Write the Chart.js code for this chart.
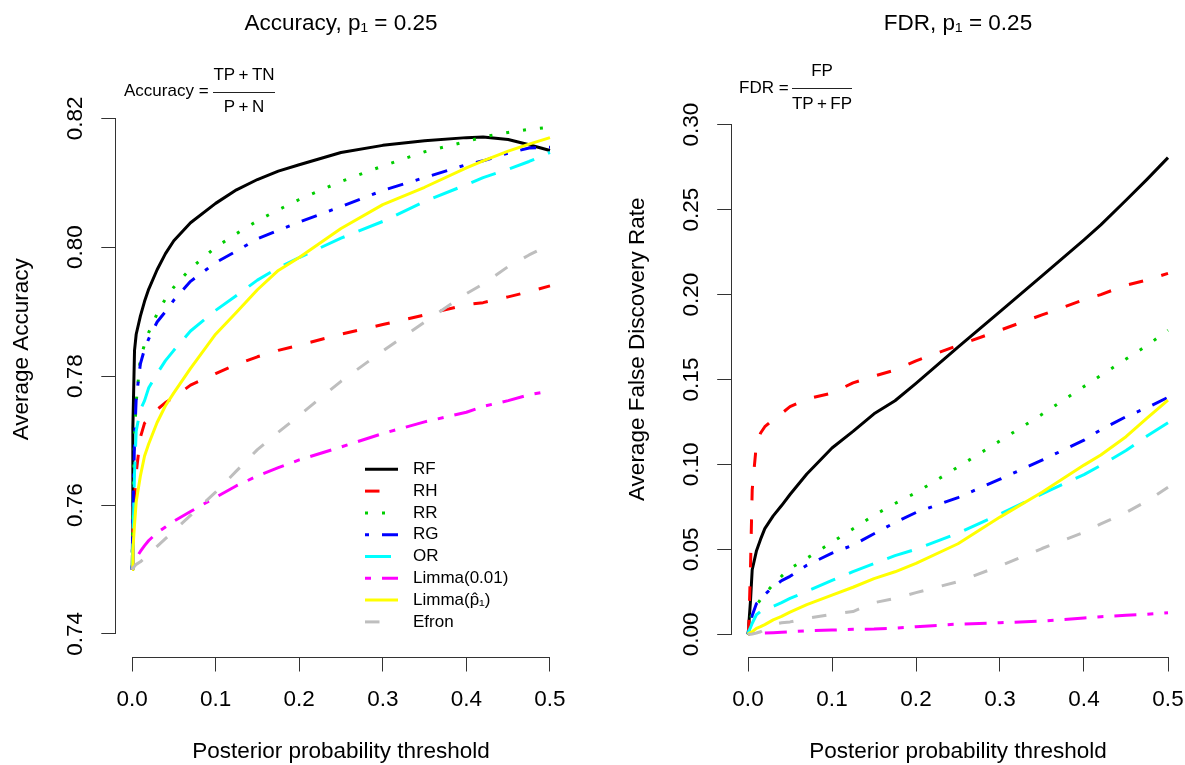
<!DOCTYPE html>
<html>
<head>
<meta charset="UTF-8">
<title>Accuracy and FDR, p1 = 0.25</title>
<script src="https://cdn.jsdelivr.net/npm/chart.js"></script>
<style>
  html, body { margin: 0; padding: 0; background: #fff; overflow: hidden; }
  #accChart { position: absolute; left: 0; top: 0; }
  #fdrChart { position: absolute; left: 592px; top: 0; }
</style>
</head>
<body>
<canvas id="accChart" width="592" height="765"></canvas>
<canvas id="fdrChart" width="593" height="765"></canvas>

<script>
// posterior probability thresholds (x)
const thresholds = [0, 0.001, 0.003, 0.005, 0.01, 0.015, 0.02, 0.03, 0.04, 0.05, 0.07, 0.1,
                    0.125, 0.15, 0.175, 0.2, 0.25, 0.3, 0.35, 0.4, 0.42, 0.45, 0.475, 0.5];

const methods = ['RF', 'RH', 'RR', 'RG', 'OR', 'Limma(0.01)', 'Limma(p\u0302\u2081)', 'Efron'];

// average accuracy
const accRF      = [0.750, 0.772, 0.784, 0.7865, 0.7893, 0.7916, 0.7935, 0.7965, 0.7990, 0.8010, 0.8038, 0.8068, 0.8089, 0.8105, 0.8118, 0.8128, 0.8147, 0.8158, 0.8165, 0.8170, 0.8171, 0.8167, 0.8159, 0.8150];
const accRH      = [0.750, 0.755, 0.761, 0.765, 0.7705, 0.7727, 0.7733, 0.7748, 0.7759, 0.7767, 0.7786, 0.7804, 0.7818, 0.7830, 0.7840, 0.7848, 0.7865, 0.7880, 0.7895, 0.7911, 0.7914, 0.7923, 0.7931, 0.7940];
const accRR      = [0.750, 0.760, 0.771, 0.776, 0.7828, 0.7849, 0.7868, 0.7897, 0.7920, 0.7938, 0.7967, 0.8000, 0.8021, 0.8041, 0.8058, 0.8074, 0.8102, 0.8126, 0.8148, 0.8164, 0.8171, 0.8178, 0.8183, 0.8186];
const accRG      = [0.750, 0.758, 0.770, 0.7765, 0.7819, 0.7842, 0.7858, 0.7884, 0.7900, 0.7918, 0.7947, 0.7976, 0.7994, 0.8013, 0.8026, 0.8039, 0.8063, 0.8088, 0.8108, 0.8128, 0.8134, 0.8146, 0.8154, 0.8155];
const accOR      = [0.750, 0.754, 0.765, 0.7715, 0.7748, 0.7762, 0.7782, 0.7804, 0.7824, 0.7840, 0.7870, 0.7902, 0.7925, 0.7949, 0.7968, 0.7984, 0.8014, 0.8040, 0.8071, 0.8097, 0.8108, 0.8121, 0.8133, 0.8147];
const accLimma01 = [0.750, 0.7505, 0.7512, 0.7518, 0.7528, 0.7537, 0.7545, 0.7557, 0.7566, 0.7575, 0.7590, 0.7612, 0.7630, 0.7645, 0.7658, 0.7670, 0.7690, 0.7711, 0.7729, 0.7744, 0.7753, 0.7762, 0.7771, 0.7777];
const accLimmaP  = [0.750, 0.753, 0.757, 0.7605, 0.7645, 0.7676, 0.7695, 0.7728, 0.7754, 0.7774, 0.7812, 0.7865, 0.7899, 0.7934, 0.7964, 0.7984, 0.8029, 0.8066, 0.8093, 0.8123, 0.8134, 0.8149, 0.8160, 0.8170];
const accEfron   = [0.750, 0.7502, 0.7505, 0.7508, 0.7512, 0.7518, 0.7524, 0.7536, 0.7548, 0.7560, 0.7584, 0.7620, 0.7653, 0.7686, 0.7713, 0.7739, 0.7792, 0.7839, 0.7884, 0.7928, 0.7943, 0.7970, 0.7988, 0.8004];

// average false discovery rate
const fdrRF      = [0, 0.006, 0.020, 0.038, 0.049, 0.056, 0.0622, 0.0697, 0.0758, 0.0823, 0.0944, 0.1097, 0.1195, 0.1298, 0.1375, 0.1477, 0.1690, 0.1900, 0.2110, 0.2322, 0.2410, 0.2555, 0.2678, 0.2806];
const fdrRH      = [0, 0.005, 0.040, 0.085, 0.112, 0.1185, 0.1222, 0.1265, 0.1300, 0.1340, 0.1385, 0.1420, 0.1480, 0.1520, 0.1555, 0.1610, 0.1700, 0.1790, 0.1880, 0.1970, 0.2000, 0.2055, 0.2085, 0.2125];
const fdrRR      = [0, 0.004, 0.009, 0.013, 0.017, 0.0206, 0.0238, 0.0293, 0.0342, 0.0387, 0.0447, 0.0542, 0.0621, 0.0701, 0.0770, 0.0834, 0.0985, 0.1139, 0.1295, 0.1459, 0.1524, 0.1620, 0.1700, 0.1790];
const fdrRG      = [0, 0.003, 0.007, 0.011, 0.018, 0.0205, 0.0235, 0.0279, 0.0316, 0.0341, 0.0406, 0.0478, 0.0525, 0.0592, 0.0658, 0.0717, 0.0805, 0.0913, 0.1025, 0.1143, 0.1204, 0.1281, 0.1334, 0.1395];
const fdrOR      = [0, 0.002, 0.004, 0.0065, 0.0115, 0.0135, 0.0148, 0.0165, 0.0187, 0.0211, 0.0253, 0.0317, 0.0369, 0.0416, 0.0463, 0.0501, 0.0595, 0.0708, 0.0827, 0.0940, 0.0994, 0.1082, 0.1167, 0.1246];
const fdrLimma01 = [0, 0.0002, 0.0004, 0.0005, 0.0005, 0.0006, 0.0007, 0.0009, 0.0012, 0.0015, 0.0021, 0.0025, 0.0029, 0.0031, 0.0036, 0.0045, 0.0060, 0.0068, 0.0078, 0.0096, 0.0104, 0.0112, 0.0118, 0.0127];
const fdrLimmaP  = [0, 0.0005, 0.001, 0.0015, 0.0035, 0.0045, 0.0057, 0.0085, 0.0105, 0.0130, 0.0175, 0.0231, 0.0277, 0.0328, 0.0368, 0.0418, 0.0533, 0.0690, 0.0836, 0.0996, 0.1056, 0.1163, 0.1273, 0.1379];
const fdrEfron   = [0, 0, 0, 0.0002, 0.0008, 0.0015, 0.003, 0.0058, 0.0068, 0.0073, 0.0094, 0.0118, 0.0134, 0.0186, 0.0211, 0.0245, 0.0310, 0.0402, 0.0505, 0.0601, 0.0650, 0.0717, 0.0785, 0.0865];

// R palette 1:8 and lty 1:8
const colours = ['#000000', '#FF0000', '#00CD00', '#0000FF', '#00FFFF', '#FF00FF', '#FFFF00', '#BEBEBE'];
const dashes  = [[], [14.5, 19], [3, 14], [4, 13, 16, 13], [26, 15], [6, 11, 22, 11], [], [14.5, 19]];

const FONT = '"Liberation Sans", Arial, Helvetica, sans-serif';
const axisColour = '#333';
Chart.defaults.font.family = FONT;
Chart.defaults.color = '#000';

function makeDatasets(series) {
    return series.map((vals, i) => ({
        label: methods[i],
        data: thresholds.map((t, j) => ({ x: t, y: vals[j] })),
        borderColor: colours[i],
        borderDash: dashes[i],
        borderWidth: 3,
        borderCapStyle: 'butt',
        borderJoinStyle: 'round',
        pointRadius: 0,
        fill: false,
        tension: 0,
        order: series.length - i   // later methods on top, as in R
    }));
}

// R style: axis line only from first to last tick, formula and legend text
const rStyle = {
    id: 'rstyle',
    afterDraw(chart, args, opts) {
        const ctx = chart.ctx;
        const area = chart.chartArea;
        const xs = chart.scales.x, ys = chart.scales.y;
        const al = p => Math.round(p - 0.5) + 0.5;
        ctx.save();
        ctx.strokeStyle = axisColour;
        ctx.lineWidth = 1;
        ctx.lineCap = 'square';
        ctx.beginPath();
        ctx.moveTo(al(xs.getPixelForValue(xs.ticks[0].value)), al(area.bottom));
        ctx.lineTo(al(xs.getPixelForValue(xs.ticks[xs.ticks.length - 1].value)), al(area.bottom));
        ctx.moveTo(al(area.left), al(ys.getPixelForValue(ys.ticks[0].value)));
        ctx.lineTo(al(area.left), al(ys.getPixelForValue(ys.ticks[ys.ticks.length - 1].value)));
        ctx.stroke();

        // formula
        const f = opts.formula;
        if (f) {
            ctx.fillStyle = '#000';
            ctx.font = f.size + 'px ' + FONT;
            ctx.textBaseline = 'middle';
            ctx.textAlign = 'left';
            ctx.fillText(f.lhs, f.x, f.y);
            ctx.textAlign = 'center';
            const cx = (f.barFrom + f.barTo) / 2;
            ctx.fillText(f.num, cx, f.numY);
            ctx.fillText(f.den, cx, f.denY);
            ctx.lineCap = 'butt';
            ctx.strokeStyle = '#222';
            ctx.beginPath();
            ctx.moveTo(f.barFrom, f.barY);
            ctx.lineTo(f.barTo, f.barY);
            ctx.stroke();
        }

        // legend
        const lg = opts.legend;
        if (lg) {
            ctx.font = lg.size + 'px ' + FONT;
            ctx.textBaseline = 'middle';
            ctx.textAlign = 'left';
            chart.data.datasets.forEach((ds, i) => {
                const y = lg.y + i * lg.step;
                ctx.strokeStyle = ds.borderColor;
                ctx.lineWidth = ds.borderWidth;
                ctx.lineCap = 'butt';
                ctx.setLineDash(ds.borderDash);
                ctx.beginPath();
                ctx.moveTo(lg.x, y);
                ctx.lineTo(lg.x + lg.len, y);
                ctx.stroke();
                ctx.setLineDash([]);
                ctx.fillStyle = '#000';
                ctx.fillText(ds.label, lg.textX, y);
            });
        }
        ctx.restore();
    }
};

function xScale() {
    return {
        type: 'linear',
        min: -0.02,
        max: 0.52,
        border: { display: false },
        grid: { drawOnChartArea: false, drawTicks: true, tickLength: 14, color: axisColour, lineWidth: 1 },
        ticks: {
            stepSize: 0.1, includeBounds: false, autoSkip: false, maxRotation: 0,
            padding: 14.5, font: { size: 22.5 }, color: '#000',
            callback: v => v.toFixed(1)
        },
        title: {
            display: true, text: 'Posterior probability threshold',
            font: { size: 22.5 }, color: '#000', padding: { top: 0, bottom: 0 }
        },
        afterFit: s => {
            s.height = 107.5;
            s.paddingLeft = 0;    // keep the plot region fixed, labels may overhang
            s.paddingRight = 0;
        }
    };
}

function yScale(min, max, step, digits, label, width, titlePad) {
    return {
        type: 'linear',
        min: min,
        max: max,
        border: { display: false },
        grid: { drawOnChartArea: false, drawTicks: true, tickLength: 14, color: axisColour, lineWidth: 1 },
        ticks: {
            stepSize: step, includeBounds: false, autoSkip: false,
            minRotation: 90, maxRotation: 90, crossAlign: 'center',
            padding: 4, font: { size: 22.5 }, color: '#000',
            callback: v => v.toFixed(digits)
        },
        title: {
            display: true, text: label,
            font: { size: 22.5 }, color: '#000', padding: { top: titlePad, bottom: 0 }
        },
        afterFit: s => {
            s.width = width;
            s.paddingTop = 0;
            s.paddingBottom = 0;
        }
    };
}

function makeOptions(title, padRight, y, rstyle) {
    return {
        responsive: false,
        animation: false,
        devicePixelRatio: 1,
        layout: { padding: { left: 0, right: padRight, top: 0, bottom: 0 } },
        scales: { x: xScale(), y: y },
        plugins: {
            legend: { display: false },
            tooltip: { enabled: false },
            title: {
                display: true, text: title, fullSize: false,
                font: { size: 22.5, weight: 'normal' }, color: '#000',
                padding: { top: 10.5, bottom: 3.5 }
            },
            rstyle: rstyle
        }
    };
}

const accChart = new Chart(document.getElementById('accChart'), {
    type: 'line',
    data: { datasets: makeDatasets([accRF, accRH, accRR, accRG, accOR, accLimma01, accLimmaP, accEfron]) },
    options: makeOptions('Accuracy, p\u2081 = 0.25', 25.3,
        yScale(0.73635, 0.83199, 0.02, 2, 'Average Accuracy', 115.3, 8.5),
        {
            formula: { lhs: 'Accuracy =', x: 124, y: 91, size: 17,
                       num: 'TP\u2009+\u2009TN', den: 'P\u2009+\u2009N',
                       numY: 75, denY: 107, barFrom: 213, barTo: 275, barY: 92.5 },
            legend: { x: 365, len: 33, textX: 413, y: 469.3, step: 21.8, size: 17 }
        }),
    plugins: [rStyle]
});

const fdrChart = new Chart(document.getElementById('fdrChart'), {
    type: 'line',
    data: { datasets: makeDatasets([fdrRF, fdrRH, fdrRR, fdrRG, fdrOR, fdrLimma01, fdrLimmaP, fdrEfron]) },
    options: makeOptions('FDR, p\u2081 = 0.25', 0.2,
        yScale(-0.01366, 0.34927, 0.05, 2, 'Average False Discovery Rate', 139.2, 32.5),
        {
            formula: { lhs: 'FDR =', x: 147, y: 88, size: 17,
                       num: 'FP', den: 'TP\u2009+\u2009FP',
                       numY: 71.5, denY: 104, barFrom: 200, barTo: 260, barY: 88.5 }
        }),
    plugins: [rStyle]
});
</script>
</body>
</html>
